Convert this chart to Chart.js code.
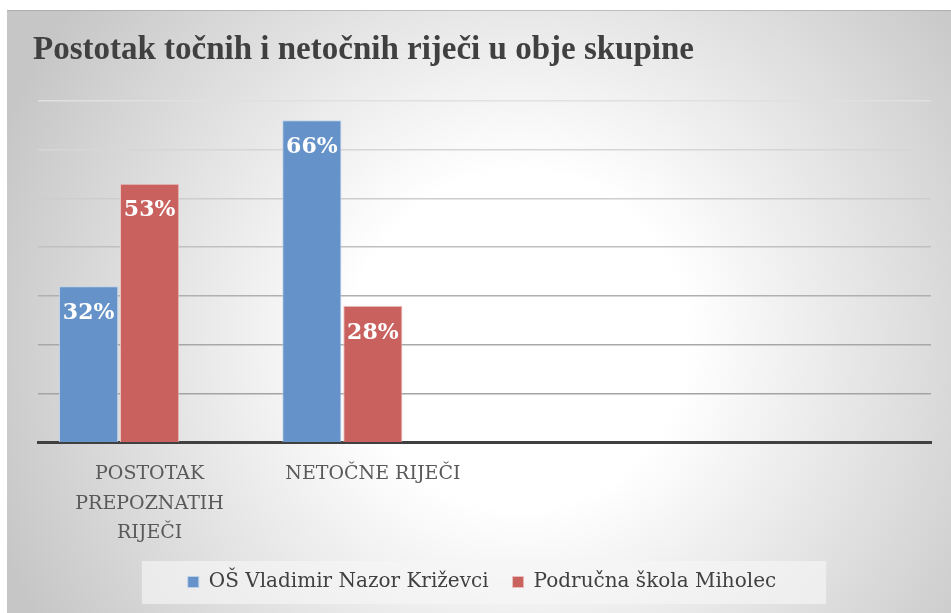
<!DOCTYPE html>
<html>
<head>
<meta charset="utf-8">
<script src="https://cdn.jsdelivr.net/npm/chart.js@4.4.0/dist/chart.umd.min.js"></script>
<style>
  html, body { margin: 0; padding: 0; background: #fff; }
  #wrap { width: 951px; height: 613px; position: relative; }
</style>
</head>
<body>
<div id="wrap"><canvas id="grafica"></canvas></div>
<script>
// podaci
const kategorije = [['POSTOTAK', 'PREPOZNATIH', 'RIJEČI'], 'NETOČNE RIJEČI', '', ''];
const skolaKrizevci = [32, 66, null, null];
const skolaMiholec = [53, 28, null, null];
const prazno = [null, null, null, null];
const nazivi = ['OŠ Vladimir Nazor Križevci', 'Područna škola Miholec'];
const yTicks = [0, 10, 20, 30, 40, 50, 60, 70];

const bojaPlava = '#6592c8';
const bojaCrvena = '#c9615f';

// pozadina s radijalnim prijelazom
const pozadina = {
    id: 'pozadina',
    beforeDraw(chart) {
        const ctx = chart.ctx;
        ctx.save();
        ctx.fillStyle = '#ffffff';
        ctx.fillRect(0, 0, chart.width, chart.height);
        const g = ctx.createRadialGradient(520, 340, 0, 520, 340, 560);
        g.addColorStop(0, '#ffffff');
        g.addColorStop(0.3, '#ffffff');
        g.addColorStop(1, '#c6c6c6');
        ctx.fillStyle = g;
        ctx.fillRect(7, 10, chart.width - 7, chart.height - 10);
        ctx.fillStyle = 'rgba(150,150,150,0.5)';
        ctx.fillRect(7, 10, chart.width - 7, 1);

        // okvir legende
        const boxes = chart.legend && chart.legend.legendHitBoxes;
        if (boxes && boxes.length) {
            const first = boxes[0];
            const last = boxes[boxes.length - 1];
            const cy = first.top + first.height / 2;
            ctx.fillStyle = 'rgba(246,246,246,0.65)';
            ctx.fillRect(first.left - 46, cy - 21, last.left + last.width + 50 - (first.left - 46), 43);
        }
        ctx.restore();
    }
};

// postoci na stupcima
const oznake = {
    id: 'oznake',
    afterDatasetsDraw(chart) {
        const ctx = chart.ctx;
        ctx.save();
        ctx.fillStyle = '#ffffff';
        ctx.font = 'bold 22px "DejaVu Serif"';
        ctx.textAlign = 'center';
        ctx.textBaseline = 'middle';
        [0, 1].forEach(i => {
            const meta = chart.getDatasetMeta(i);
            meta.data.forEach((bar, j) => {
                const v = chart.data.datasets[i].data[j];
                if (v === null) return;
                ctx.fillText(v + '%', bar.x, bar.y + 27);
            });
        });
        ctx.restore();
    }
};

const ctx = document.getElementById('grafica').getContext('2d');
new Chart(ctx, {
    type: 'bar',
    data: {
        labels: kategorije,
        datasets: [{
            label: nazivi[0],
            data: skolaKrizevci,
            backgroundColor: bojaPlava,
            borderColor: 'rgba(190,210,235,0.9)',
            borderWidth: 1
        }, {
            label: nazivi[1],
            data: skolaMiholec,
            backgroundColor: bojaCrvena,
            borderColor: 'rgba(235,190,190,0.9)',
            borderWidth: 1
        }, {
            label: '',
            data: prazno,
            backgroundColor: 'rgba(0,0,0,0)'
        }]
    },
    options: {
        responsive: true,
        maintainAspectRatio: false,
        animation: false,
        categoryPercentage: 0.82,
        barPercentage: 0.97,
        layout: {
            padding: { left: 33, right: 20, top: 0, bottom: 11 }
        },
        scales: {
            x: {
                grid: { display: false, drawTicks: false },
                border: { display: true, color: '#404040', width: 3 },
                afterFit(scale) { scale.height -= 17; },
                ticks: {
                    color: '#595959',
                    padding: 17,
                    maxRotation: 0,
                    autoSkip: false,
                    font: { family: '"DejaVu Serif"', size: 19, lineHeight: 1.55 }
                }
            },
            y: {
                min: 0,
                max: 70,
                afterBuildTicks(scale) {
                    scale.ticks = yTicks.map(v => ({ value: v }));
                },
                afterFit(scale) { scale.width = 5; },
                ticks: { display: false },
                border: { display: false },
                grid: {
                    drawTicks: false,
                    lineWidth: 1.5,
                    color: c => ['rgba(0,0,0,0)', '#a4a4a4', '#a8a8a8', '#b0b0b0', '#c0c0c0', '#cdcdcd', '#d6d6d6', '#e0e0e0'][c.index] || '#e0e0e0'
                }
            }
        },
        plugins: {
            title: {
                display: true,
                text: 'Postotak točnih i netočnih riječi u obje skupine',
                align: 'start',
                color: '#404040',
                font: { family: '"Liberation Serif"', size: 33, weight: 'bold', lineHeight: 1.2 },
                padding: { top: 31, bottom: 30 }
            },
            legend: {
                display: true,
                position: 'bottom',
                labels: {
                    filter: item => item.text !== '',
                    color: '#404040',
                    boxWidth: 11,
                    boxHeight: 11,
                    padding: 24,
                    font: { family: '"DejaVu Serif"', size: 20 }
                }
            },
            tooltip: { enabled: false }
        }
    },
    plugins: [pozadina, oznake]
});
</script>
</body>
</html>
